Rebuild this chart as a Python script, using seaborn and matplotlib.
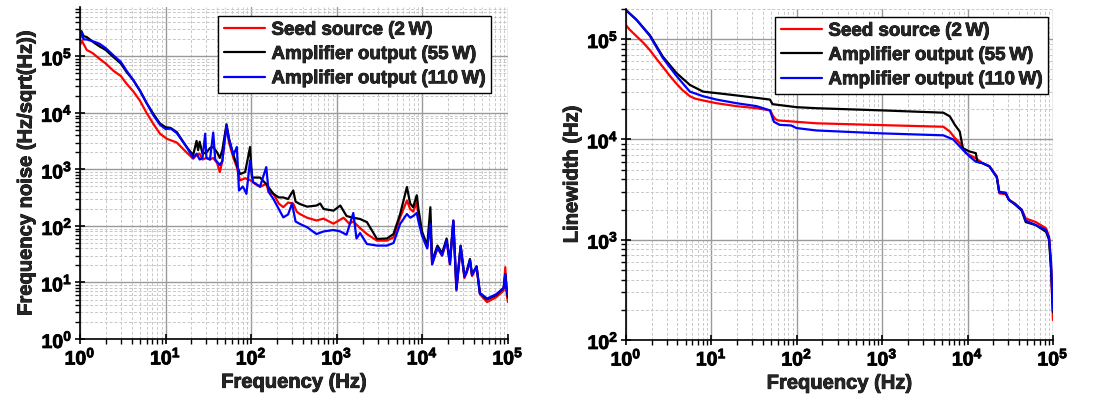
import numpy as np
import pandas as pd
import matplotlib
matplotlib.use("Agg")
import matplotlib.pyplot as plt
import matplotlib.patheffects as pe
import seaborn as sns
from matplotlib.ticker import LogLocator, FuncFormatter, NullFormatter

# ---------------- data ----------------
series_names = ["Seed source (2\u2009W)", "Amplifier output (55\u2009W)", "Amplifier output (110\u2009W)"]
series_colors = ["#ff0000", "#000000", "#0000ff"]

# Frequency noise (Hz/sqrt(Hz))
fn_red_f = [1.0, 1.05, 1.2, 1.4, 1.7, 2.0, 2.45, 3.0, 3.5, 4.2, 5.0, 6.0, 7.2, 8.6, 10.3, 13.5, 17.6, 21, 23, 25, 27,
            30, 33, 36, 40, 43, 46, 49, 51.5, 55, 62, 68, 74, 85, 97, 110, 127, 150, 160, 182, 210, 237, 270, 310, 340,
            370, 450, 580, 700, 915, 1200, 1400, 1560, 1900, 2250, 2950, 3850, 4600, 5500, 6600, 7200, 7800, 8600,
            9000, 9900, 11400, 12400, 13000, 15000, 17000, 19200, 21000, 23000, 25000, 28000, 31000, 33000, 36000,
            38000, 43000, 47000, 57000, 73000, 89000, 93000, 97000, 100000]
fn_red_v = [1.6e5, 1.9e5, 1.3e5, 1.15e5, 9e4, 7.5e4, 5.6e4, 4.5e4, 3.3e4, 2.4e4, 1.66e4, 1.0e4, 6.4e3, 4.3e3, 3.5e3,
            3.0e3, 2.0e3, 1.55e3, 1.8e3, 1.9e3, 1.5e3, 1.6e3, 1.5e3, 1.6e3, 1.3e3, 900, 1.4e3, 3.5e3, 5.6e3, 3e3,
            1.6e3, 1.1e3, 640, 700, 650, 560, 490, 560, 400, 370, 250, 215, 260, 250, 180, 163, 140, 125, 135, 110,
            140, 110, 120, 90, 72, 55, 55, 63, 142, 282, 200, 180, 260, 150, 72, 42, 125, 21, 40, 30, 55, 21, 125,
            7.2, 42, 12, 15, 24, 13, 18.6, 6.2, 4.5, 5.5, 7.2, 18.6, 6, 4.5]

fn_blk_f = [1.0, 1.04, 1.1, 1.2, 1.5, 1.7, 2.0, 2.45, 3.0, 3.5, 4.2, 5.0, 6.0, 7.2, 8.6, 10, 11.5, 13.5, 17.6, 21, 23,
            24, 25, 27, 30, 33, 36, 40, 43, 46, 51.5, 55, 62, 68, 74, 85, 97, 102, 127, 150, 182, 210, 237, 270, 310,
            330, 370, 450, 580, 640, 700, 915, 1100, 1300, 1560, 1870, 2250, 2950, 3850, 4600, 5500, 6600, 7200,
            7800, 8600, 9000, 9900, 11400, 12400, 13000, 15000, 17000, 19200, 21000, 23000, 25000, 28000, 31000,
            33000, 36000, 38000, 43000, 47000, 57000, 73000, 89000, 93000, 97000, 100000]
fn_blk_v = [2.0e5, 2.8e5, 2.3e5, 2.2e5, 1.7e5, 1.5e5, 1.3e5, 9.8e4, 7.5e4, 5.3e4, 3.8e4, 2.5e4, 1.5e4, 9.6e3, 6.5e3,
            5.6e3, 5.4e3, 4.6e3, 2.5e3, 1.8e3, 3.2e3, 2.2e3, 3.1e3, 1.9e3, 2.0e3, 2.4e3, 2.5e3, 2.0e3, 1.6e3, 2.2e3,
            6.3e3, 3.5e3, 1.8e3, 1.2e3, 830, 900, 2.5e3, 720, 720, 550, 370, 320, 320, 300, 425, 270, 245, 220, 230,
            250, 200, 187, 230, 150, 140, 133, 117, 59, 60, 72, 163, 490, 250, 215, 350, 200, 80, 45, 215, 24, 45,
            33, 60, 24, 120, 8, 45, 13, 16, 26, 14, 19, 6.5, 5, 6, 8, 14, 7, 5.5]

fn_blu_f = [1.0, 1.04, 1.1, 1.2, 1.5, 1.7, 2.0, 2.45, 3.0, 3.5, 4.2, 5.0, 6.0, 7.2, 8.6, 10, 11.5, 13.5, 17.6, 21, 23,
            25, 27, 29, 30, 33, 36, 38, 43, 46, 51.5, 55, 62, 68, 72, 80, 88, 97, 105, 127, 150, 160, 182, 210, 237,
            270, 300, 330, 370, 450, 580, 700, 915, 1100, 1300, 1560, 1700, 1870, 2250, 2950, 3850, 4600, 5500, 6600,
            7200, 7800, 8600, 9000, 9900, 11400, 12400, 13000, 15000, 17000, 19200, 21000, 23000, 25000, 28000,
            31000, 33000, 36000, 38000, 43000, 47000, 57000, 73000, 89000, 93000, 97000, 100000]
fn_blu_v = [2.2e5, 2.7e5, 2.0e5, 2.0e5, 1.8e5, 1.67e5, 1.4e5, 1.05e5, 8e4, 5.6e4, 3.8e4, 2.5e4, 1.5e4, 9.1e3, 6.2e3,
            5.2e3, 5.3e3, 4.4e3, 2.5e3, 1.6e3, 1.9e3, 1.5e3, 1.6e3, 4.3e3, 1.6e3, 1.5e3, 4.5e3, 1.5e3, 1.2e3, 1.4e3,
            6e3, 3.5e3, 1.8e3, 2.5e3, 425, 500, 370, 1.45e3, 600, 500, 1.1e3, 400, 300, 200, 142, 160, 250, 120, 109,
            95, 72, 80, 85, 80, 70, 170, 60, 75, 48, 45, 45, 50, 109, 163, 140, 150, 170, 120, 68, 40, 110, 21, 42,
            30, 56, 21, 125, 7.5, 44, 12.5, 15.5, 25, 13.5, 19.5, 6.5, 5.2, 6.2, 8, 14, 7, 6]

# Linewidth (Hz)
lw_red_f = [1, 1.1, 1.33, 1.6, 1.9, 2.3, 2.7, 3.2, 3.9, 4.6, 5.6, 6.5, 8, 11.5, 19.7, 33.8, 45, 49, 52, 56, 60, 99,
            170, 1000, 5200, 6200, 7000, 8100, 9600, 12500, 15000, 18000, 22000, 23500, 28000, 30500, 36000, 43000,
            48000, 63000, 83000, 90000, 95000, 100000]
lw_red_v = [1.38e5, 1.25e5, 1.07e5, 9.2e4, 7.8e4, 6.3e4, 5.3e4, 4.4e4, 3.6e4, 3.1e4, 2.7e4, 2.55e4, 2.45e4, 2.3e4,
            2.15e4, 2.05e4, 1.97e4, 1.95e4, 1.75e4, 1.6e4, 1.55e4, 1.5e4, 1.45e4, 1.39e4, 1.34e4, 1.2e4, 1.05e4,
            9.2e3, 7.3e3, 6.5e3, 5.8e3, 5.4e3, 4.3e3, 2.9e3, 2.85e3, 2.5e3, 2.3e3, 2.0e3, 1.63e3, 1.5e3, 1.3e3,
            1.07e3, 540, 158]

lw_blk_f = [1, 1.33, 1.9, 2.7, 3.9, 5.6, 8, 11.5, 19.7, 33.8, 48.5, 52, 99, 170, 1000, 5200, 6200, 7100, 8100, 8800,
            10500, 12500, 13000, 15000, 18000, 22000, 23500, 28000, 30500, 36000, 43000, 48000, 63000, 83000, 90000,
            95000, 100000]
lw_blk_v = [1.95e5, 1.56e5, 1.1e5, 6.7e4, 4.6e4, 3.5e4, 3e4, 2.9e4, 2.75e4, 2.6e4, 2.5e4, 2.25e4, 2.1e4, 2.05e4,
            1.95e4, 1.85e4, 1.7e4, 1.4e4, 1.2e4, 8.2e3, 7.6e3, 7.3e3, 6e3, 5.8e3, 5.4e3, 4.2e3, 3.0e3, 2.9e3, 2.5e3,
            2.25e3, 1.95e3, 1.5e3, 1.4e3, 1.2e3, 1.0e3, 500, 190]

lw_blu_f = [1, 1.33, 1.9, 2.7, 3.9, 5.6, 8, 11.5, 19.7, 33.8, 48.5, 54, 63, 86, 99, 170, 1000, 5200, 6800, 8800,
            10500, 12500, 15000, 18000, 22000, 23500, 28000, 30500, 36000, 43000, 48000, 63000, 83000, 90000, 95000,
            100000]
lw_blu_v = [1.95e5, 1.56e5, 1.08e5, 6.5e4, 4.3e4, 3e4, 2.7e4, 2.5e4, 2.3e4, 2.15e4, 1.95e4, 1.5e4, 1.4e4, 1.38e4,
            1.3e4, 1.23e4, 1.15e4, 1.1e4, 1e4, 7.9e3, 6.8e3, 6e3, 5.8e3, 5.4e3, 4.2e3, 3.0e3, 2.95e3, 2.5e3, 2.25e3,
            2.0e3, 1.55e3, 1.4e3, 1.25e3, 1.05e3, 600, 200]


def make_df(pairs):
    frames = []
    for name, (f, v) in zip(series_names, pairs):
        frames.append(pd.DataFrame({"freq": f, "val": v, "series": name}))
    return pd.concat(frames, ignore_index=True)


df_noise = make_df([(fn_red_f, fn_red_v), (fn_blk_f, fn_blk_v), (fn_blu_f, fn_blu_v)])
df_lw = make_df([(lw_red_f, lw_red_v), (lw_blk_f, lw_blk_v), (lw_blu_f, lw_blu_v)])

# ---------------- style ----------------
sns.set_theme(style="ticks")
plt.rcParams["font.family"] = ["Liberation Sans", "DejaVu Sans"]
plt.rcParams["font.weight"] = "bold"
plt.rcParams["axes.labelweight"] = "bold"
plt.rcParams["mathtext.fontset"] = "custom"
plt.rcParams["mathtext.rm"] = "Liberation Sans:bold"
plt.rcParams["mathtext.bf"] = "Liberation Sans:bold"
plt.rcParams["mathtext.it"] = "Liberation Sans:bold"

fig = plt.figure(figsize=(10.99, 4.03), dpi=100)
ax1 = fig.add_axes([0.0728, 0.1588, 0.3894, 0.8238])
ax2 = fig.add_axes([0.5696, 0.1563, 0.3885, 0.8213])

palette = dict(zip(series_names, series_colors))
heavy = [pe.withStroke(linewidth=0.6, foreground="black")]

fmt = FuncFormatter(lambda v, p: r"$\mathbf{10^{%d}}$" % int(round(np.log10(v))))


def style_axis(ax, ylim, ylabel, anchor):
    ax.set_xscale("log")
    ax.set_yscale("log")
    ax.set_xlim(1, 1e5)
    ax.set_ylim(*ylim)
    ax.xaxis.set_major_locator(LogLocator(base=10, numticks=20))
    ax.yaxis.set_major_locator(LogLocator(base=10, numticks=20))
    ax.xaxis.set_minor_locator(LogLocator(base=10, subs=np.arange(2, 10), numticks=100))
    ax.yaxis.set_minor_locator(LogLocator(base=10, subs=np.arange(2, 10), numticks=100))
    ax.xaxis.set_major_formatter(fmt)
    ax.yaxis.set_major_formatter(fmt)
    ax.xaxis.set_minor_formatter(NullFormatter())
    ax.yaxis.set_minor_formatter(NullFormatter())
    ax.grid(True, which="major", color="#9a9a9a", linewidth=1.0, linestyle="-")
    ax.grid(True, which="minor", color="#c8c8c8", linewidth=0.7, linestyle=(0, (3, 2)))
    ax.set_axisbelow(True)
    for s in ["top", "right"]:
        ax.spines[s].set_visible(False)
    for s in ["left", "bottom"]:
        ax.spines[s].set_color("black")
        ax.spines[s].set_linewidth(1.2)
    ax.tick_params(which="major", direction="inout", length=7, width=1.2, labelsize=14, colors="black", pad=2)
    ax.tick_params(which="minor", direction="out", length=3.5, width=1.0, colors="black")
    ax.set_xlabel("Frequency (Hz)", fontsize=14.5, fontweight="bold", labelpad=3)
    ax.set_ylabel(ylabel, fontsize=14.5, fontweight="bold", labelpad=4)
    ax.xaxis.label.set_path_effects(heavy)
    ax.yaxis.label.set_path_effects(heavy)
    for t in ax.get_xticklabels() + ax.get_yticklabels():
        t.set_path_effects(heavy)
    ax.set_facecolor("white")
    leg = ax.legend(loc="upper right", bbox_to_anchor=anchor, frameon=True, fancybox=False,
                    fontsize=13.5, handlelength=2.2, handletextpad=0.35, borderpad=0.3, labelspacing=0.38,
                    borderaxespad=0.0)
    leg.get_frame().set_edgecolor("black")
    leg.get_frame().set_linewidth(1.0)
    leg.get_frame().set_alpha(1.0)
    for t in leg.get_texts():
        t.set_fontweight("bold")
        t.set_path_effects(heavy)
    for l in leg.get_lines():
        l.set_linewidth(1.6)


sns.lineplot(data=df_noise, x="freq", y="val", hue="series", palette=palette, estimator=None, sort=True,
             linewidth=1.6, ax=ax1)
sns.lineplot(data=df_lw, x="freq", y="val", hue="series", palette=palette, estimator=None, sort=True,
             linewidth=1.6, ax=ax2)

style_axis(ax1, (1, 7.5e5), "Frequency noise (Hz/sqrt(Hz))", (0.96, 0.973))
style_axis(ax2, (1e2, 2e5), "Linewidth (Hz)", (0.988, 0.976))

fig.savefig("out.png", dpi=100, facecolor="white")
